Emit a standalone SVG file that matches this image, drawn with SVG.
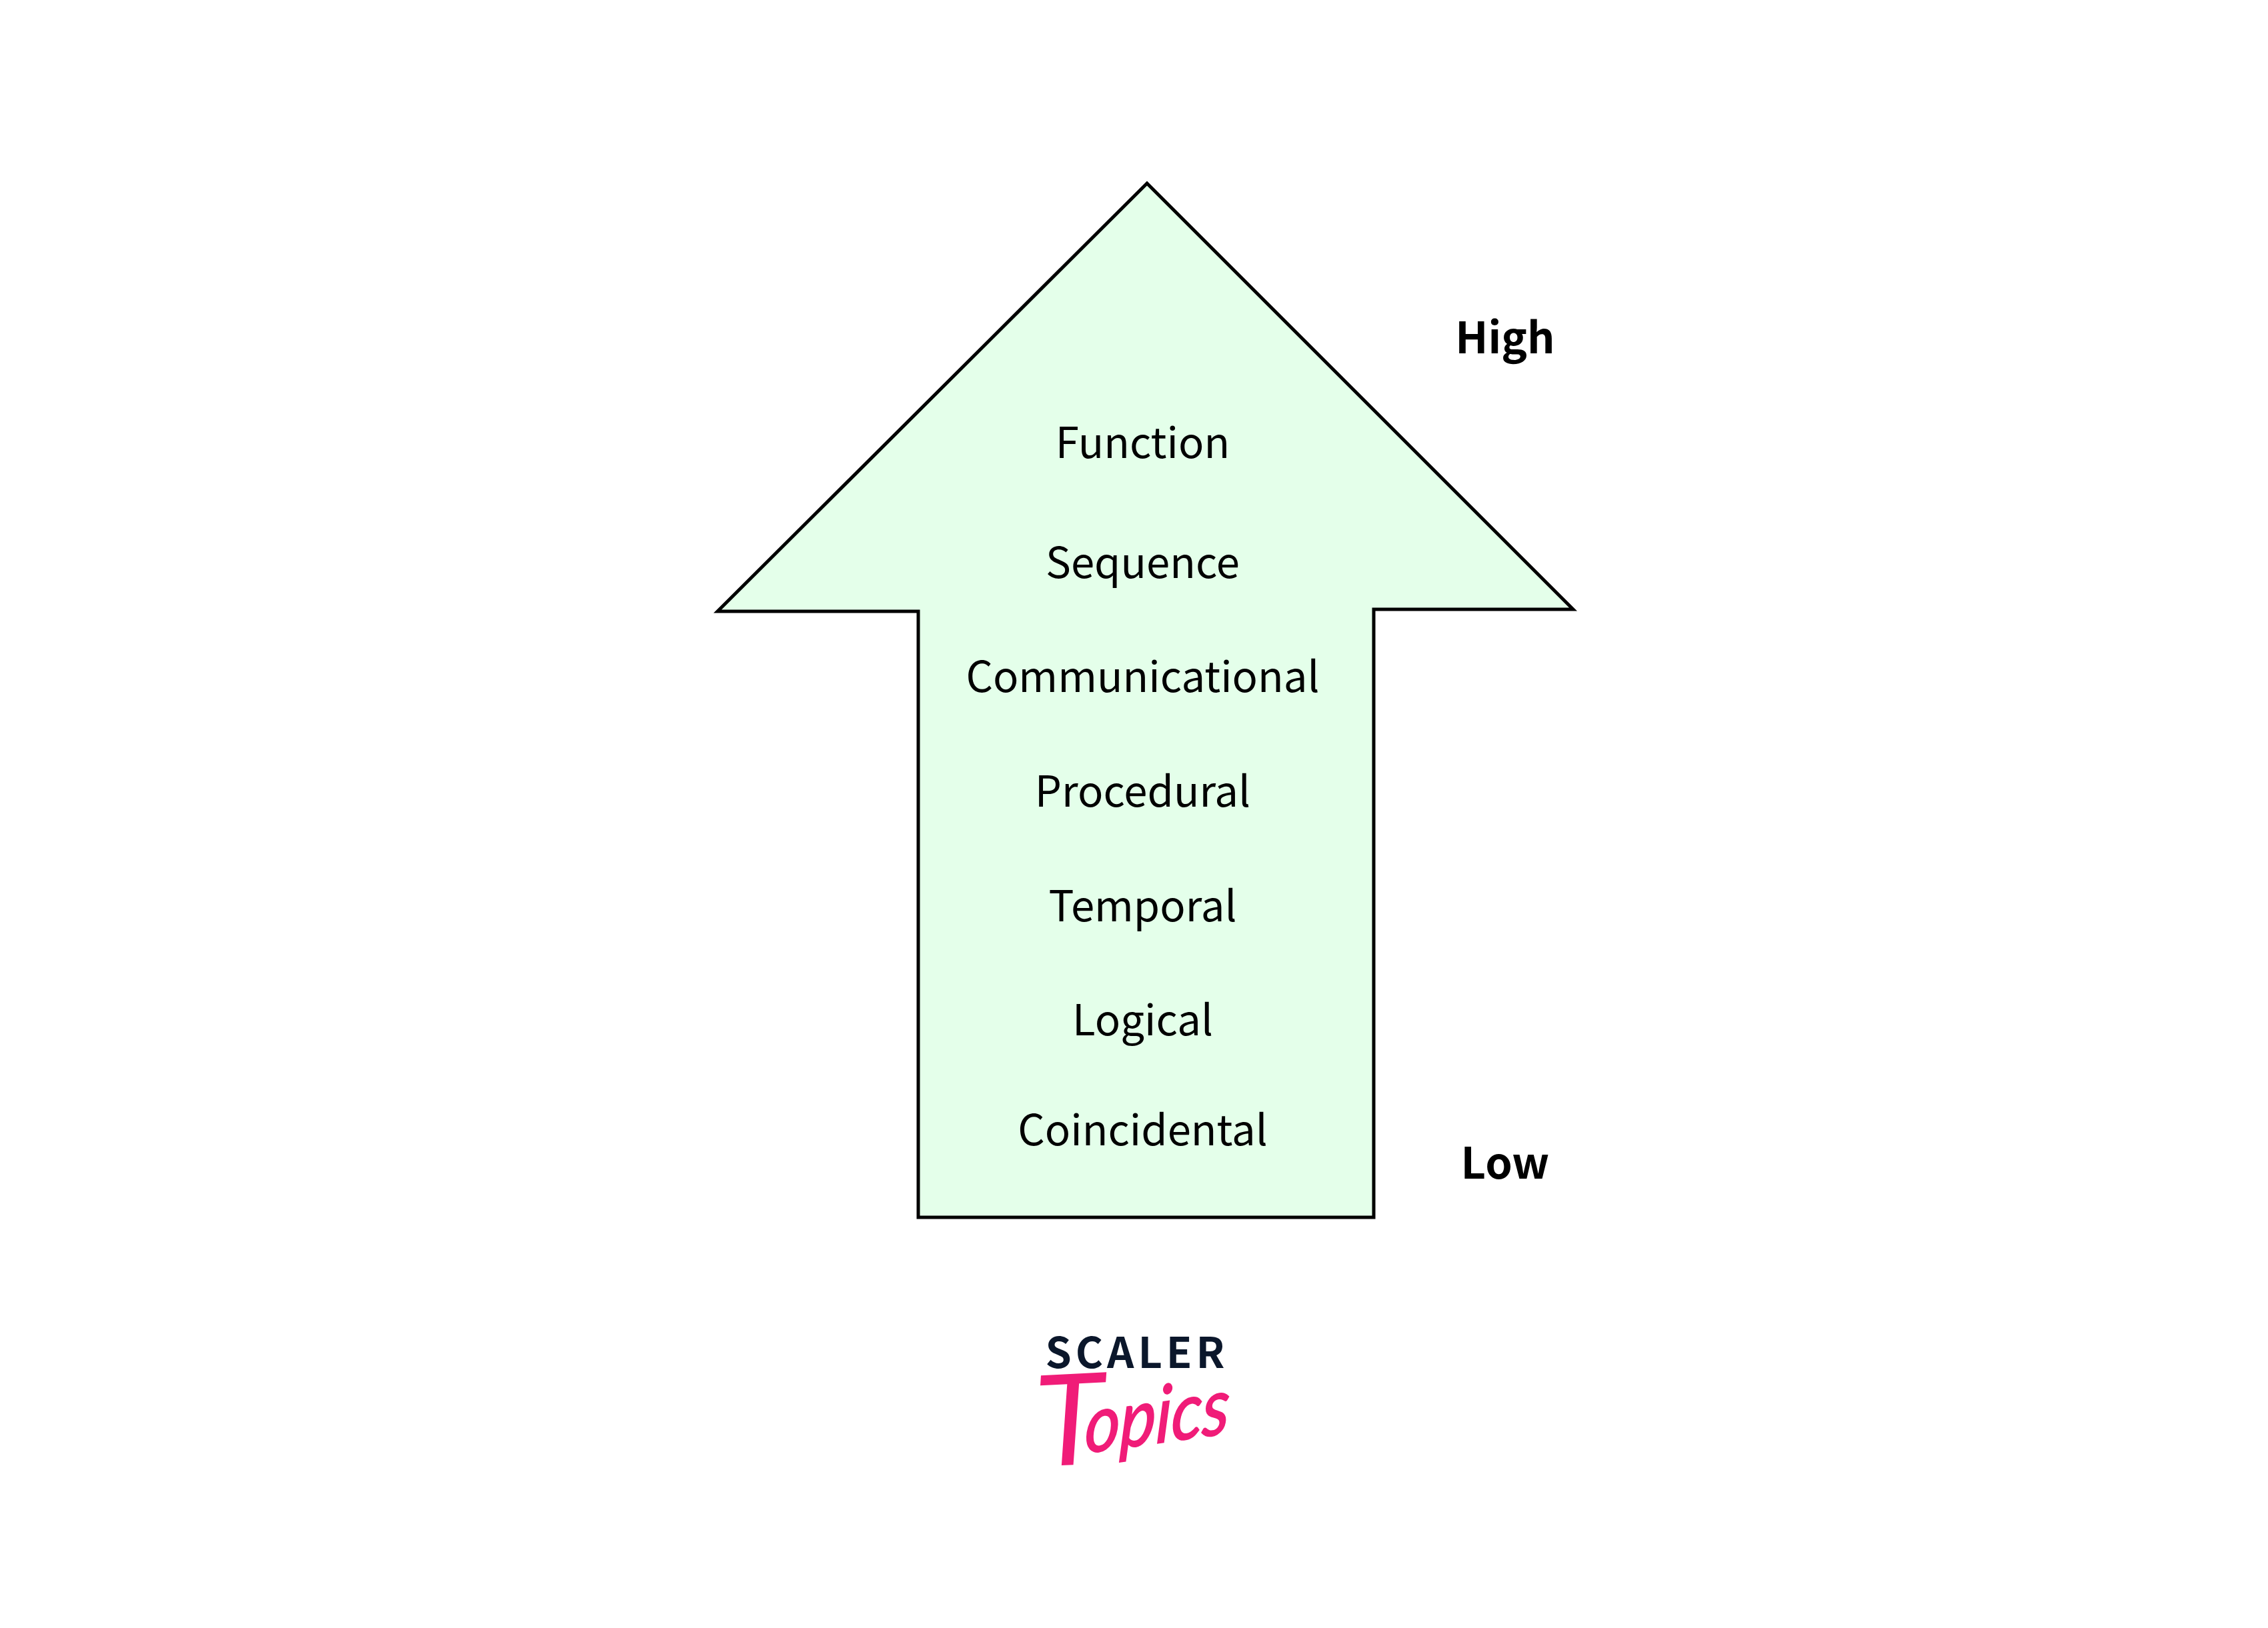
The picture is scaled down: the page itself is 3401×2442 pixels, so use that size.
<svg xmlns="http://www.w3.org/2000/svg" width="3401" height="2442" viewBox="0 0 3401 2442">
<style>
text{font-family:"Noto Sans CJK SC","Noto Sans",sans-serif;fill:#000;text-anchor:middle}
.l{font-size:63.5px}
.b{font-size:65px;font-weight:700}
.s{font-size:63px;font-weight:700;fill:#0b172b;letter-spacing:6px}
.t{font-family:"Lato","Open Sans",sans-serif;font-style:italic;fill:#f01c78;stroke:#f01c78;text-anchor:start}
</style>
<rect width="3401" height="2442" fill="#fff"/>
<g id="arrow"><path d="M1720 275 L2359 914 L2060 914 L2060 1826 L1377 1826 L1377 917 L1076 917 Z" fill="#e4ffea" stroke="#000" stroke-width="5"/></g>
<g id="levels">
<text class="l" x="1713.5" y="687">Function</text>
<text class="l" x="1713.5" y="867">Sequence</text>
<text class="l" x="1713.5" y="1038">Communicational</text>
<text class="l" x="1713.5" y="1210">Procedural</text>
<text class="l" x="1713.5" y="1382">Temporal</text>
<text class="l" x="1713.5" y="1553">Logical</text>
<text class="l" x="1713.5" y="1718">Coincidental</text>
</g>
<g id="high"><text class="b" x="2257" y="530">High</text></g>
<g id="low"><text class="b" x="2257" y="1768">Low</text></g>
<g id="logo">
<text class="s" x="1705" y="2052">SCALER</text>
<text class="t" font-size="190" stroke-width="0" transform="translate(1556 2200) rotate(-3)">T</text>
<text class="t" font-size="118" stroke-width="2" transform="translate(1626 2180) rotate(-8) skewX(-10) scale(.87 1)">opics</text>
</g>
</svg>
